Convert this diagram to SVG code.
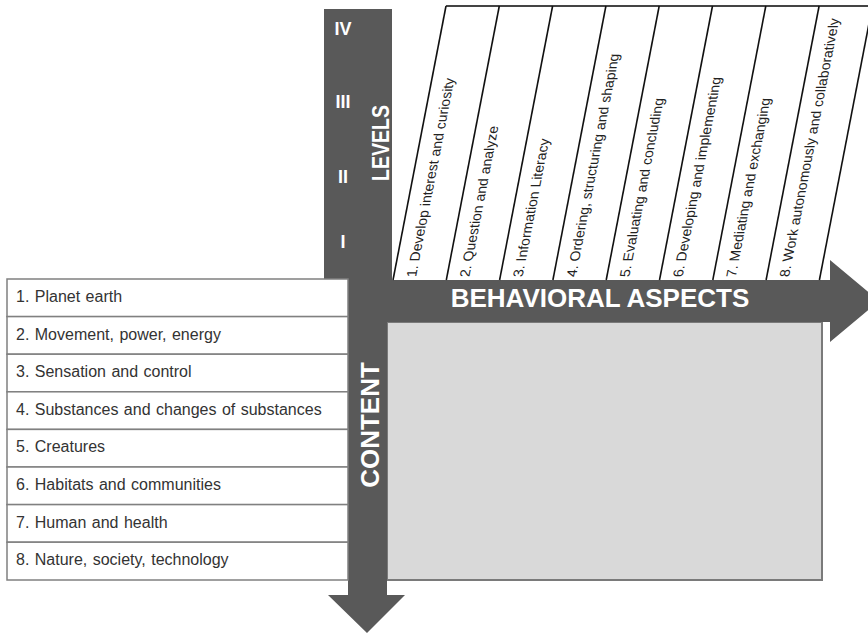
<svg xmlns="http://www.w3.org/2000/svg" width="868" height="635" viewBox="0 0 868 635">
<style>
  .axis { fill: #595959; }
  .ax-label { font-family: "Liberation Sans", Arial, sans-serif; font-weight: bold; fill: #ffffff; }
  .lvl { font-family: "Liberation Sans", Arial, sans-serif; font-weight: bold; font-size: 18px; fill: #ffffff; text-anchor: middle; }
  .row rect { fill: #ffffff; stroke: #808080; stroke-width: 1.5; }
  .row text { font-family: "Liberation Sans", Arial, sans-serif; font-size: 16px; fill: #333333; word-spacing: 1px; }
  .col-line { stroke: #111111; stroke-width: 1.6; fill: none; }
  .col text { font-family: "Liberation Sans", Arial, sans-serif; font-size: 14px; fill: #222222; }
</style>
<rect width="868" height="635" fill="#ffffff"/>

<!-- Behavioral aspect columns (background) -->
<polygon points="393,280 446,6 868,6 868,280" fill="#ffffff"/>

<!-- Matrix area -->
<g id="matrix">
  <rect x="387" y="322" width="435" height="258" fill="#d9d9d9" stroke="#7a7a7a" stroke-width="2"/>
</g>

<!-- Axes (connectors) -->
<g id="connectors">
  <rect id="levels-bar" class="axis" x="324" y="9" width="68" height="271"/>
  <polygon id="behavior-arrow" class="axis" points="347,280 830,280 830,260 879,301 830,342 830,322 347,322"/>
  <polygon id="content-arrow" class="axis" points="348,280 387,280 387,595 405,595 367,633 328,595 348,595"/>
</g>

<!-- Column boundary lines -->
<g id="columns-frame">
  <line x1="446" y1="6" x2="868" y2="6" stroke="#444444" stroke-width="2"/>
  <line class="col-line" x1="393" y1="280" x2="446" y2="6"/>
  <line class="col-line" x1="446.3" y1="280" x2="499.3" y2="6"/>
  <line class="col-line" x1="499.6" y1="280" x2="552.6" y2="6"/>
  <line class="col-line" x1="552.9" y1="280" x2="605.9" y2="6"/>
  <line class="col-line" x1="606.2" y1="280" x2="659.2" y2="6"/>
  <line class="col-line" x1="659.5" y1="280" x2="712.5" y2="6"/>
  <line class="col-line" x1="712.8" y1="280" x2="765.8" y2="6"/>
  <line class="col-line" x1="766.1" y1="280" x2="819.1" y2="6"/>
  <line class="col-line" x1="819.4" y1="280" x2="872.4" y2="6"/>
</g>

<g id="col1" class="col"><text transform="translate(416,277) skewX(-11) rotate(-90)">1. Develop interest and curiosity</text></g>
<g id="col2" class="col"><text transform="translate(469.3,277) skewX(-11) rotate(-90)">2. Question and analyze</text></g>
<g id="col3" class="col"><text transform="translate(522.6,277) skewX(-11) rotate(-90)">3. Information Literacy</text></g>
<g id="col4" class="col"><text transform="translate(575.9,277) skewX(-11) rotate(-90)">4. Ordering, structuring and shaping</text></g>
<g id="col5" class="col"><text transform="translate(629.2,277) skewX(-11) rotate(-90)">5. Evaluating and concluding</text></g>
<g id="col6" class="col"><text transform="translate(682.5,277) skewX(-11) rotate(-90)">6. Developing and implementing</text></g>
<g id="col7" class="col"><text transform="translate(735.8,277) skewX(-11) rotate(-90)">7. Mediating and exchanging</text></g>
<g id="col8" class="col"><text transform="translate(789.1,277) skewX(-11) rotate(-90)">8. Work autonomously and collaboratively</text></g>

<!-- Content list -->
<g id="row1" class="row"><rect x="7" y="279" width="341" height="37.6"/><text x="16" y="302">1. Planet earth</text></g>
<g id="row2" class="row"><rect x="7" y="316.6" width="341" height="37.6"/><text x="16" y="339.6">2. Movement, power, energy</text></g>
<g id="row3" class="row"><rect x="7" y="354.2" width="341" height="37.6"/><text x="16" y="377.2">3. Sensation and control</text></g>
<g id="row4" class="row"><rect x="7" y="391.8" width="341" height="37.6"/><text x="16" y="414.8">4. Substances and changes of substances</text></g>
<g id="row5" class="row"><rect x="7" y="429.4" width="341" height="37.6"/><text x="16" y="452.4">5. Creatures</text></g>
<g id="row6" class="row"><rect x="7" y="467" width="341" height="37.6"/><text x="16" y="490">6. Habitats and communities</text></g>
<g id="row7" class="row"><rect x="7" y="504.6" width="341" height="37.6"/><text x="16" y="527.6">7. Human and health</text></g>
<g id="row8" class="row"><rect x="7" y="542.2" width="341" height="37.8"/><text x="16" y="565.2">8. Nature, society, technology</text></g>

<!-- Axis labels -->
<g id="levels">
  <text class="lvl" x="343" y="35">IV</text>
  <text class="lvl" x="343" y="108">III</text>
  <text class="lvl" x="343" y="183">II</text>
  <text class="lvl" x="343" y="248">I</text>
  <text class="ax-label" font-size="24" text-anchor="middle" textLength="76" lengthAdjust="spacingAndGlyphs" transform="translate(389,143) rotate(-90)">LEVELS</text>
</g>
<g id="behavioral-aspects">
  <text class="ax-label" font-size="26" x="600" y="307" text-anchor="middle">BEHAVIORAL ASPECTS</text>
</g>
<g id="content">
  <text class="ax-label" font-size="26" text-anchor="middle" transform="translate(379,425) rotate(-90)">CONTENT</text>
</g>
</svg>
